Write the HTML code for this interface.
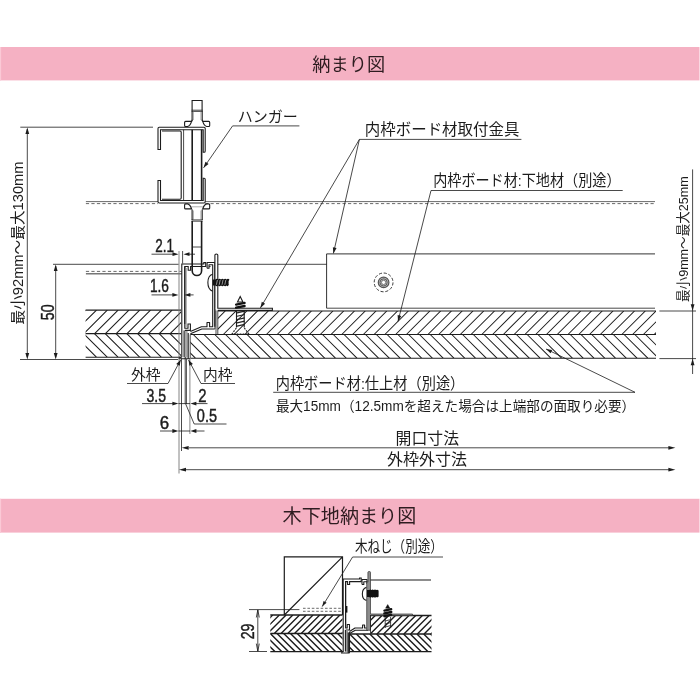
<!DOCTYPE html>
<html lang="ja"><head><meta charset="utf-8"><title>納まり図</title>
<style>
html,body{margin:0;padding:0;background:#fff;}
body{width:700px;height:700px;overflow:hidden;font-family:"Liberation Sans",sans-serif;}
svg{display:block}
.t{stroke:#1c1c1c;stroke-width:.8;fill:none}
.tl{stroke:#2a2a2a;stroke-width:.7;fill:none}
.tn{stroke:#1c1c1c;stroke-width:.8;fill:none}
.k{stroke:#1c1c1c;stroke-width:1.1;fill:none}
.kn{stroke:#1c1c1c;stroke-width:1.1;fill:none;stroke-linejoin:round}
.kw{stroke:#1c1c1c;stroke-width:1.1;fill:#fff}
.kwn{stroke:#1c1c1c;stroke-width:1.1;fill:#fff}
.k2{stroke:#1c1c1c;stroke-width:.9;fill:none}
.k3{stroke:#1c1c1c;stroke-width:1.6;fill:none}
.k3n{stroke:#1c1c1c;stroke-width:1.3;fill:#fff}
.kb{stroke:#1c1c1c;stroke-width:1.3;fill:none}
.kbn{stroke:#1c1c1c;stroke-width:1.2;fill:none}
.kf{fill:#111;stroke:#111;stroke-width:.5}
.ks{stroke:#222;stroke-width:1.25;fill:none}
.ks2{stroke:#111;stroke-width:2.3;fill:none;stroke-linecap:round}
.w{stroke:#fff;stroke-width:.55;fill:none}
.g1t{stroke:#777;stroke-width:.6;fill:none}
.g1{stroke:#777;stroke-width:.9;fill:none}
.g2{stroke:#777;stroke-width:1.4;fill:none}
.h{stroke:#1c1c1c;stroke-width:1.05;fill:none}
.h2{stroke:#1c1c1c;stroke-width:1.4;fill:none}
.af{fill:#1c1c1c}
.jt{font-family:"Liberation Sans","Noto Sans CJK JP",sans-serif;fill:#1c1c1c;stroke:none}
.jh{font-family:"Liberation Sans","Noto Sans CJK JP",sans-serif;fill:#2e1c20;stroke:none}
.d{font-family:"Liberation Sans",sans-serif;fill:#1c1c1c;stroke:#1c1c1c;stroke-width:.45px}
</style></head>
<body>
<svg style="will-change:transform" width="700" height="700" viewBox="0 0 700 700">
<rect x="0" y="47" width="699.5" height="33.4" fill="#f5b1c3"/>
<rect x="0" y="498.8" width="699.5" height="33.8" fill="#f5b1c3"/>
<rect x="0" y="47" width="1.1" height="33.4" fill="#fbc9d6"/><rect x="0" y="498.8" width="1.1" height="33.8" fill="#fbc9d6"/>
<text x="312.3" y="70.6" font-size="18" textLength="72.8" lengthAdjust="spacingAndGlyphs" class="jh">納まり図</text>
<text x="282.6" y="522.6" font-size="19" textLength="133.7" lengthAdjust="spacingAndGlyphs" class="jh">木下地納まり図</text>
<clipPath id="c1"><rect x="85.6" y="310.1" width="95.4" height="23.5"/></clipPath>
<path d="M85.70,310.1L62.20,333.6M96.50,310.1L73.00,333.6M107.30,310.1L83.80,333.6M118.10,310.1L94.60,333.6M128.90,310.1L105.40,333.6M139.70,310.1L116.20,333.6M150.50,310.1L127.00,333.6M161.30,310.1L137.80,333.6M172.10,310.1L148.60,333.6M182.90,310.1L159.40,333.6M193.70,310.1L170.20,333.6M204.50,310.1L181.00,333.6" class="h" clip-path="url(#c1)"/>
<clipPath id="c2"><rect x="217.8" y="311.0" width="438.2" height="23.5"/></clipPath>
<path d="M225.26,311.0L201.76,334.5M236.03,311.0L212.53,334.5M246.80,311.0L223.30,334.5M257.57,311.0L234.07,334.5M268.34,311.0L244.84,334.5M279.11,311.0L255.61,334.5M289.88,311.0L266.38,334.5M300.66,311.0L277.16,334.5M311.43,311.0L287.93,334.5M322.20,311.0L298.70,334.5M332.97,311.0L309.47,334.5M343.74,311.0L320.24,334.5M354.51,311.0L331.01,334.5M365.28,311.0L341.78,334.5M376.05,311.0L352.55,334.5M386.82,311.0L363.32,334.5M397.59,311.0L374.09,334.5M408.37,311.0L384.87,334.5M419.14,311.0L395.64,334.5M429.91,311.0L406.41,334.5M440.68,311.0L417.18,334.5M451.45,311.0L427.95,334.5M462.22,311.0L438.72,334.5M472.99,311.0L449.49,334.5M483.76,311.0L460.26,334.5M494.53,311.0L471.03,334.5M505.30,311.0L481.80,334.5M516.08,311.0L492.58,334.5M526.85,311.0L503.35,334.5M537.62,311.0L514.12,334.5M548.39,311.0L524.89,334.5M559.16,311.0L535.66,334.5M569.93,311.0L546.43,334.5M580.70,311.0L557.20,334.5M591.47,311.0L567.97,334.5M602.24,311.0L578.74,334.5M613.01,311.0L589.51,334.5M623.79,311.0L600.29,334.5M634.56,311.0L611.06,334.5M645.33,311.0L621.83,334.5M656.10,311.0L632.60,334.5M666.87,311.0L643.37,334.5M677.64,311.0L654.14,334.5" class="h" clip-path="url(#c2)"/>
<clipPath id="c3"><rect x="85.6" y="333.6" width="95.4" height="23.599999999999966"/></clipPath>
<path d="M72.80,333.6L96.40,357.2M83.60,333.6L107.20,357.2M94.40,333.6L118.00,357.2M105.20,333.6L128.80,357.2M116.00,333.6L139.60,357.2M126.80,333.6L150.40,357.2M137.60,333.6L161.20,357.2M148.40,333.6L172.00,357.2M159.20,333.6L182.80,357.2M170.00,333.6L193.60,357.2M180.80,333.6L204.40,357.2" class="h" clip-path="url(#c3)"/>
<clipPath id="c4"><rect x="190.4" y="334.5" width="465.6" height="23.69999999999999"/></clipPath>
<path d="M171.70,334.5L195.40,358.2M182.47,334.5L206.17,358.2M193.25,334.5L216.94,358.2M204.02,334.5L227.72,358.2M214.79,334.5L238.49,358.2M225.56,334.5L249.26,358.2M236.33,334.5L260.03,358.2M247.10,334.5L270.80,358.2M257.87,334.5L281.57,358.2M268.64,334.5L292.34,358.2M279.41,334.5L303.11,358.2M290.18,334.5L313.88,358.2M300.95,334.5L324.65,358.2M311.73,334.5L335.43,358.2M322.50,334.5L346.20,358.2M333.27,334.5L356.97,358.2M344.04,334.5L367.74,358.2M354.81,334.5L378.51,358.2M365.58,334.5L389.28,358.2M376.35,334.5L400.05,358.2M387.12,334.5L410.82,358.2M397.89,334.5L421.59,358.2M408.66,334.5L432.36,358.2M419.44,334.5L443.14,358.2M430.21,334.5L453.91,358.2M440.98,334.5L464.68,358.2M451.75,334.5L475.45,358.2M462.52,334.5L486.22,358.2M473.29,334.5L496.99,358.2M484.06,334.5L507.76,358.2M494.83,334.5L518.53,358.2M505.60,334.5L529.30,358.2M516.38,334.5L540.08,358.2M527.15,334.5L550.85,358.2M537.92,334.5L561.62,358.2M548.69,334.5L572.39,358.2M559.46,334.5L583.16,358.2M570.23,334.5L593.93,358.2M581.00,334.5L604.70,358.2M591.77,334.5L615.47,358.2M602.54,334.5L626.24,358.2M613.31,334.5L637.01,358.2M624.09,334.5L647.79,358.2M634.86,334.5L658.56,358.2M645.63,334.5L669.33,358.2" class="h" clip-path="url(#c4)"/>
<line x1="85.6" y1="310.1" x2="181" y2="310.1" class="k"/>
<line x1="85.6" y1="333.6" x2="181" y2="333.6" class="k"/>
<line x1="85.6" y1="357.2" x2="181" y2="357.2" class="k"/>
<line x1="217.8" y1="311.0" x2="656" y2="311.0" class="k"/>
<line x1="190.4" y1="334.5" x2="656" y2="334.5" class="k"/>
<line x1="190.4" y1="358.2" x2="656" y2="358.2" class="k"/>
<line x1="190.2" y1="334.5" x2="190.2" y2="358.2" class="t"/>
<line x1="85.9" y1="201.6" x2="158" y2="201.6" class="tl"/>
<line x1="85.9" y1="203.6" x2="158" y2="203.6" class="tl" stroke-dasharray="3.2 2.3"/>
<line x1="205" y1="201.6" x2="655" y2="201.6" class="tl"/>
<line x1="205" y1="203.6" x2="655" y2="203.6" class="tl" stroke-dasharray="3.2 2.3"/>
<line x1="85.9" y1="271.4" x2="182" y2="271.4" class="tl" stroke-dasharray="3.2 2.3"/>
<line x1="85.9" y1="273.8" x2="182" y2="273.8" class="g2"/>
<path d="M326.6,308.2V253.9H655" class="k2"/>
<line x1="326.6" y1="308.2" x2="655" y2="308.2" class="t"/>
<line x1="217.8" y1="264.3" x2="326.6" y2="264.3" class="t"/>
<circle cx="383.6" cy="282.4" r="9.4" fill="none" stroke="#333" stroke-width="0.95" stroke-dasharray="3.1 1.8"/>
<circle cx="383.6" cy="282.4" r="5.3" fill="#bbb" stroke="#555" stroke-width="1.2"/>
<circle cx="383.6" cy="282.4" r="3.6" fill="none" stroke="#555" stroke-width="0.9"/>
<circle cx="383.6" cy="282.4" r="2.1" fill="#fff" stroke="#666" stroke-width="0.8"/>
<line x1="20.3" y1="127.2" x2="153" y2="127.2" class="t"/>
<line x1="20" y1="359.5" x2="178" y2="359.5" class="t"/>
<line x1="53" y1="264.3" x2="178.7" y2="264.3" class="t"/>
<line x1="27.3" y1="129" x2="27.3" y2="357" class="t"/>
<polygon points="27.30,127.40 29.20,133.90 25.40,133.90" class="af"/>
<polygon points="27.30,359.40 25.40,352.90 29.20,352.90" class="af"/>
<line x1="55.7" y1="266" x2="55.7" y2="357" class="t"/>
<polygon points="55.70,264.50 57.60,271.00 53.80,271.00" class="af"/>
<polygon points="55.70,359.40 53.80,352.90 57.60,352.90" class="af"/>
<text transform="translate(22.96,324.5) rotate(-90)" font-size="14.5" textLength="163" lengthAdjust="spacingAndGlyphs" class="jt">最小92mm〜最大130mm</text>
<text transform="translate(53.70,320.27) rotate(-90) scale(0.807,1)" font-size="17.76" class="d">50</text>
<line x1="659.4" y1="311" x2="696" y2="311" class="t"/>
<line x1="659.4" y1="358.6" x2="696" y2="358.6" class="t"/>
<line x1="692.6" y1="169.4" x2="692.6" y2="374" class="t"/>
<polygon points="692.60,310.80 690.70,304.30 694.50,304.30" class="af"/>
<polygon points="692.60,358.80 694.50,365.30 690.70,365.30" class="af"/>
<text transform="translate(687.94,302.0) rotate(-90)" font-size="13.5" textLength="125.7" lengthAdjust="spacingAndGlyphs" class="jt">最小9mm〜最大25mm</text>
<line x1="179" y1="251" x2="179" y2="473.5" class="g1"/>
<line x1="182.6" y1="251" x2="182.6" y2="263.5" class="t"/>
<line x1="181.5" y1="358.5" x2="181.5" y2="451" class="t"/>
<line x1="185.2" y1="358.5" x2="185.2" y2="404" class="t"/>
<line x1="186.4" y1="358.5" x2="186.4" y2="404" class="t"/>
<line x1="189.9" y1="358.5" x2="189.9" y2="434" class="g1"/>
<path d="M192.1,110.2V100.5H202.1V110.2" class="k"/>
<path d="M191.6,110.2H202.6M191.6,111.4H202.6" class="t"/>
<path d="M192.1,110.2V120.8M202.2,110.2V120.8" class="k"/>
<path d="M193.4,111.4V120M200.9,111.4V120" class="g1t"/>
<path d="M187.6,126.5H185.6Q184.6,126.5 184.6,125.5V122.4Q184.6,121.4 185.6,121.4H191.6C190.8,123.95 189.6,125.9 187.6,126.5Z" class="kw"/>
<path d="M206.70000000000002,126.5H208.70000000000002Q209.70000000000002,126.5 209.70000000000002,125.5V122.4Q209.70000000000002,121.4 208.70000000000002,121.4H202.70000000000002C203.5,123.95 204.70000000000002,125.9 206.70000000000002,126.5Z" class="kw"/>
<path d="M191.6,121.4C191.9,120.9 192.1,120.5 192.1,119.8M202.7,121.4C202.4,120.9 202.2,120.5 202.2,119.8" class="k"/>
<path d="M158,149.5V128.4Q158,127.2 159.2,127.2H204Q205.2,127.2 205.2,128.4V151Q205.2,152.3 204.2,152.3H203.2V129.7H160.5V149.5Z" class="kw"/>
<path d="M158,180.5V201.8Q158,203 159.2,203H204Q205.2,203 205.2,201.8V179.5Q205.2,178.2 204.2,178.2H203.2V200.5H160.5V180.5Z" class="kw"/>
<path d="M162,131H180Q181.2,131 181.2,132.2V198Q181.2,199.2 180,199.2H162" class="k"/>
<line x1="183.6" y1="129.7" x2="183.6" y2="200.5" class="t"/>
<line x1="192.2" y1="129.7" x2="192.2" y2="200.5" class="k3"/>
<line x1="201.6" y1="129.7" x2="201.6" y2="200.5" class="k3"/>
<path d="M187.6,203.9H185.6Q184.6,203.9 184.6,204.9V207.9Q184.6,208.9 185.6,208.9H191.6C190.8,206.4 189.6,204.5 187.6,203.9Z" class="kw"/>
<path d="M206.70000000000002,203.9H208.70000000000002Q209.70000000000002,203.9 209.70000000000002,204.9V207.9Q209.70000000000002,208.9 208.70000000000002,208.9H202.70000000000002C203.5,206.4 204.70000000000002,204.5 206.70000000000002,203.9Z" class="kw"/>
<path d="M192.1,209.5V220M202.2,209.5V220" class="k"/>
<path d="M193.4,210.5V219.6M200.9,210.5V219.6" class="g1t"/>
<path d="M191.6,219.9H202.6M191.6,221.2H202.6" class="t"/>
<line x1="191.5" y1="206.8" x2="202.8" y2="206.8" class="g1t"/>
<path d="M181.8,357.3V264H203.8V262.6H205.7V266.5H190.6V270.2H188.2V266.5H184.8V324" class="kw"/>
<path d="M184.8,266.5V328.2H188V324H190.4V330.4H184.8" class="kwn"/>
<line x1="186.1" y1="268" x2="186.1" y2="327" class="g1"/>
<rect x="184.6" y="331" width="3" height="26.6" fill="#a8a8a8"/>
<path d="M184.1,330.4V357.3M188.2,333V358.7" class="k"/>
<path d="M178.7,357.3H181.8M178.7,358.7H185.3V357.3M186.2,358.7H190.2" class="k"/>
<path d="M207.1,268.2V262.5H214.8V326.8" class="kn"/>
<path d="M207.1,268.2H209V264.8H212.7V326.8H209.6V322.5H207V326.8H201.4L190.4,331.6" class="kn"/>
<path d="M214.8,329H201.8L190.4,333.8" class="kn"/>
<path d="M209,266.5H210.6" class="t"/>
<path d="M192.2,221V270.8A4.7,4.7 0 0 0 201.6,270.8V221" class="k3"/>
<line x1="192.2" y1="247" x2="201.6" y2="247" class="t"/>
<path d="M214.9,308.2V255Q214.9,254 216.3,254Q217.8,254 217.8,255V308.2H272.4V310.4H217.8" class="kwn"/>
<path d="M214.9,308.2V329M216,310.5V334M217.8,310.5V334" class="t"/>
<path d="M212.6,274.2C206.3,276 206.3,289 212.6,291.2" class="k"/>
<path d="M212.8,279.4H215.4Q216.8,277.9 218.20000000000002,279.4Q219.6,277.9 221.0,279.4Q222.4,277.9 223.8,279.4Q225.20000000000002,277.9 226.60000000000002,279.4Q228.0,277.9 229.4,279.4Q229.3,280 228.6,281V284Q229.3,285 228.2,285.6Q228.0,287.1 226.6,285.6Q225.20000000000002,287.1 223.8,285.6Q222.4,287.1 221,285.6Q219.6,287.1 218.2,285.6Q216.8,287.1 215.4,285.6H212.8Z" fill="#111"/>
<path d="M216.4,284.8L217.4,280M219.2,284.8L220.2,280M222,284.8L223,280M224.8,284.8L225.8,280" class="w"/>
<path d="M240.2,296.6L237.5,302H242.9Z" class="kw"/>
<path d="M236.1,304.6L244.6,302.9M236.1,307.7L244.6,306" class="ks2"/>
<path d="M236,313.2L244.6,311.2M236,316.5L244.6,314.5M236,319.8L244.6,317.8M236,323.1L244.6,321.1M236,326.4L244.6,324.4" class="ks"/>
<path d="M236.5,310.5V327.5M244.2,310.5V327.5" class="k"/>
<path d="M236.3,328L232,334H248.8L244.4,328" class="k" stroke-dasharray="1.8 1.2"/>
<text x="237.7" y="122" font-size="15" textLength="60" lengthAdjust="spacingAndGlyphs" class="jt">ハンガー</text>
<line x1="232.6" y1="125.9" x2="299.4" y2="125.9" class="t"/>
<line x1="232.6" y1="125.9" x2="203.6" y2="167.8" class="t"/>
<polygon points="203.60,167.80 205.45,161.79 208.58,163.95" class="af"/>
<text x="364.8" y="134.7" font-size="15.5" textLength="154.6" lengthAdjust="spacingAndGlyphs" class="jt">内枠ボード材取付金具</text>
<line x1="359.4" y1="139.4" x2="521.4" y2="139.4" class="t"/>
<line x1="359.4" y1="139.4" x2="333.4" y2="253.4" class="t"/>
<polygon points="333.40,253.40 332.88,247.13 336.59,247.97" class="af"/>
<line x1="359.4" y1="139.4" x2="260.4" y2="307.9" class="t"/>
<polygon points="260.40,307.90 261.80,301.76 265.08,303.69" class="af"/>
<text x="433.2" y="186" font-size="15.5" textLength="187.3" lengthAdjust="spacingAndGlyphs" class="jt">内枠ボード材:下地材（別途）</text>
<line x1="431" y1="190.5" x2="622.7" y2="190.5" class="t"/>
<line x1="431" y1="190.5" x2="398" y2="321.4" class="t"/>
<polygon points="398.00,321.40 397.62,315.12 401.31,316.05" class="af"/>
<text x="275.7" y="389.2" font-size="15.5" textLength="188.6" lengthAdjust="spacingAndGlyphs" class="jt">内枠ボード材:仕上材（別途）</text>
<line x1="273.2" y1="392.3" x2="635" y2="392.3" class="t"/>
<line x1="635" y1="392.3" x2="546" y2="349" class="t"/>
<polygon points="546.00,349.00 552.23,349.92 550.56,353.33" class="af"/>
<text x="275.9" y="410.9" font-size="14" textLength="359.3" lengthAdjust="spacingAndGlyphs" class="jt">最大15mm（12.5mmを超えた場合は上端部の面取り必要）</text>
<text x="395.6" y="444" font-size="15.5" textLength="63.4" lengthAdjust="spacingAndGlyphs" class="jt">開口寸法</text>
<text x="387" y="464.8" font-size="15.8" textLength="80" lengthAdjust="spacingAndGlyphs" class="jt">外枠外寸法</text>
<line x1="189" y1="447.8" x2="669" y2="447.8" class="t"/>
<polygon points="181.70,447.80 188.70,445.90 188.70,449.70" class="af"/>
<polygon points="675.40,447.80 668.40,449.70 668.40,445.90" class="af"/>
<line x1="186" y1="469.7" x2="669" y2="469.7" class="t"/>
<polygon points="179.00,469.70 186.00,467.80 186.00,471.60" class="af"/>
<polygon points="675.40,469.70 668.40,471.60 668.40,467.80" class="af"/>
<text x="131" y="380" font-size="15" textLength="29.7" lengthAdjust="spacingAndGlyphs" class="jt">外枠</text>
<text x="203" y="380" font-size="15" textLength="29.5" lengthAdjust="spacingAndGlyphs" class="jt">内枠</text>
<line x1="127" y1="383.5" x2="168" y2="383.5" class="t"/>
<line x1="168" y1="383.5" x2="180.6" y2="360" class="t"/>
<polygon points="180.60,360.00 179.76,365.79 176.24,363.90" class="af"/>
<line x1="201" y1="383.5" x2="235" y2="383.5" class="t"/>
<line x1="201" y1="383.5" x2="188.6" y2="360" class="t"/>
<polygon points="188.60,360.00 192.94,363.93 189.40,365.80" class="af"/>
<text transform="translate(155.32,251.60) scale(0.759,1)" font-size="17.76" class="d">2.1</text>
<line x1="151.5" y1="254.2" x2="173" y2="254.2" class="t"/>
<polygon points="178.50,254.20 172.50,256.10 172.50,252.30" class="af"/>
<line x1="189" y1="254.2" x2="195" y2="254.2" class="t"/>
<polygon points="183.50,254.20 189.50,252.30 189.50,256.10" class="af"/>
<text transform="translate(149.96,292.20) scale(0.771,1)" font-size="17.76" class="d">1.6</text>
<line x1="151.5" y1="294.9" x2="173" y2="294.9" class="t"/>
<polygon points="178.40,294.90 172.40,296.80 172.40,293.00" class="af"/>
<line x1="190" y1="294.9" x2="193.6" y2="294.9" class="t"/>
<polygon points="184.40,294.90 190.40,293.00 190.40,296.80" class="af"/>
<text transform="translate(146.47,401.80) scale(0.791,1)" font-size="17.76" class="d">3.5</text>
<line x1="142" y1="403.6" x2="173" y2="403.6" class="t"/>
<polygon points="178.40,403.60 172.40,405.50 172.40,401.70" class="af"/>
<line x1="178.4" y1="403.6" x2="190" y2="403.6" class="t"/>
<line x1="196" y1="403.6" x2="207.5" y2="403.6" class="t"/>
<polygon points="190.40,403.60 196.40,401.70 196.40,405.50" class="af"/>
<text transform="translate(198.25,401.80) scale(0.841,1)" font-size="17.76" class="d">2</text>
<text transform="translate(196.83,421.70) scale(0.817,1)" font-size="17.76" class="d">0.5</text>
<path d="M185.7,404L194.2,424H226.5" class="tn"/>
<text transform="translate(159.74,429.30) scale(0.944,1)" font-size="17.90" class="d">6</text>
<line x1="160" y1="431" x2="173" y2="431" class="t"/>
<polygon points="178.40,431.00 172.40,432.90 172.40,429.10" class="af"/>
<line x1="178.4" y1="431" x2="190" y2="431" class="t"/>
<line x1="196" y1="431" x2="204.5" y2="431" class="t"/>
<polygon points="190.40,431.00 196.40,429.10 196.40,432.90" class="af"/>
<clipPath id="d1"><rect x="270.3" y="615.0" width="72.19999999999999" height="18.5"/></clipPath>
<path d="M272.64,615.0L254.14,633.5M279.37,615.0L260.87,633.5M286.10,615.0L267.60,633.5M292.83,615.0L274.33,633.5M299.56,615.0L281.06,633.5M306.29,615.0L287.79,633.5M313.02,615.0L294.52,633.5M319.75,615.0L301.25,633.5M326.48,615.0L307.98,633.5M333.21,615.0L314.71,633.5M339.94,615.0L321.44,633.5M346.67,615.0L328.17,633.5M353.40,615.0L334.90,633.5M360.13,615.0L341.63,633.5" class="h2" clip-path="url(#d1)"/>
<clipPath id="d2"><rect x="370.5" y="615.5" width="61.0" height="18.5"/></clipPath>
<path d="M375.29,615.5L356.79,634.0M382.02,615.5L363.52,634.0M388.75,615.5L370.25,634.0M395.48,615.5L376.98,634.0M402.21,615.5L383.71,634.0M408.94,615.5L390.44,634.0M415.67,615.5L397.17,634.0M422.40,615.5L403.90,634.0M429.13,615.5L410.63,634.0M435.86,615.5L417.36,634.0M442.59,615.5L424.09,634.0M449.32,615.5L430.82,634.0" class="h2" clip-path="url(#d2)"/>
<clipPath id="d3"><rect x="270.3" y="633.5" width="72.19999999999999" height="18.100000000000023"/></clipPath>
<path d="M256.84,633.5L274.94,651.6M263.57,633.5L281.67,651.6M270.30,633.5L288.40,651.6M277.03,633.5L295.13,651.6M283.76,633.5L301.86,651.6M290.49,633.5L308.59,651.6M297.22,633.5L315.32,651.6M303.95,633.5L322.05,651.6M310.68,633.5L328.78,651.6M317.41,633.5L335.51,651.6M324.14,633.5L342.24,651.6M330.87,633.5L348.97,651.6M337.60,633.5L355.70,651.6" class="h2" clip-path="url(#d3)"/>
<clipPath id="d4"><rect x="349.5" y="634.0" width="82.0" height="17.600000000000023"/></clipPath>
<path d="M336.20,634.0L353.80,651.6M342.93,634.0L360.53,651.6M349.66,634.0L367.26,651.6M356.39,634.0L373.99,651.6M363.12,634.0L380.72,651.6M369.85,634.0L387.45,651.6M376.58,634.0L394.18,651.6M383.31,634.0L400.91,651.6M390.04,634.0L407.64,651.6M396.77,634.0L414.37,651.6M403.50,634.0L421.10,651.6M410.23,634.0L427.83,651.6M416.96,634.0L434.56,651.6M423.69,634.0L441.29,651.6M430.42,634.0L448.02,651.6" class="h2" clip-path="url(#d4)"/>
<line x1="270.3" y1="615.0" x2="342.5" y2="615.0" class="kb"/>
<line x1="270.3" y1="633.5" x2="342.5" y2="633.5" class="kb"/>
<line x1="270.3" y1="651.6" x2="342.5" y2="651.6" class="kb"/>
<line x1="370.5" y1="615.5" x2="431.5" y2="615.5" class="kb"/>
<line x1="349.5" y1="634.0" x2="431.5" y2="634.0" class="kb"/>
<line x1="349.5" y1="651.6" x2="431.5" y2="651.6" class="kb"/>
<line x1="349.5" y1="634.0" x2="349.5" y2="651.6" class="k"/>
<path d="M284.3,615V556.9H342.5V615M284.3,615L342.5,556.9" class="kbn"/>
<line x1="249" y1="609.6" x2="299.4" y2="609.6" class="t"/>
<line x1="249" y1="651.5" x2="267" y2="651.5" class="t"/>
<line x1="257.8" y1="610" x2="257.8" y2="651" class="t"/>
<path d="M256.3,617.5L257.8,609.9L259.3,617.5M256.3,643.6L257.8,651.2L259.3,643.6" class="tn"/>
<text transform="translate(254.30,639.31) rotate(-90) scale(0.746,1)" font-size="18.90" class="d">29</text>
<path d="M303,608.3H343M303,611.3H343" class="tl" stroke-dasharray="2.6 1.8"/>
<rect x="345" y="606" width="2.4" height="6.6" fill="#111"/>
<text x="354.9" y="552.2" font-size="15.5" textLength="88" lengthAdjust="spacingAndGlyphs" class="jt">木ねじ（別途）</text>
<line x1="352.6" y1="557" x2="443" y2="557" class="t"/>
<line x1="352.6" y1="557" x2="322.2" y2="606.6" class="t"/>
<polygon points="322.20,606.60 323.54,600.97 326.61,602.85" class="af"/>
<path d="M343.2,652V579H359.6V578H361.2V581.6H349.6V584.5H347.6V581.6H345.6V624.5" class="kwn"/>
<path d="M345.6,581.6V628H347.2V624.5H349.5V630H345.6" class="kn"/>
<rect x="345.6" y="630.5" width="2.4" height="21.3" fill="#9a9a9a"/>
<path d="M345.4,630V651.6M348.2,632.5V653M349.4,632V653" class="k"/>
<path d="M341,651.6H343.2M341,653H349.6" class="k"/>
<path d="M362,584.5V579.5H367V584M362,584.5H363.8V581.8H366.8M366.8,628H364.6V625H362.6V628H355L349.5,631.5" class="kn"/>
<path d="M368,630.3H355.3L349.5,633.6" class="kn"/>
<path d="M366.7,614V582H367.9V572.3Q367.9,571.5 369.2,571.5Q370.5,571.5 370.5,572.3V614H412.5V615.5H370.5V630.3H366.7Z" fill="#8c8c8c" stroke="#333" stroke-width="0.7"/>
<line x1="370.5" y1="615" x2="370.5" y2="633.5" class="t"/>
<line x1="370.5" y1="580" x2="431" y2="580" class="k"/>
<path d="M366.4,587.4C361,589 361,598.8 366.4,600.4" class="k"/>
<path d="M367,590H369.2Q370.3,588.8 371.4,590Q372.6,588.8 373.8,590Q375,588.8 376.2,590Q377.6,589.2 378.6,590.6V596.4Q377.6,597.8 376.2,597Q375,598.2 373.8,597Q372.6,598.2 371.4,597Q370.3,598.2 369.2,597H367Z" fill="#111"/>
<path d="M387.7,604.6L385.6,608.2H389.8Z" class="kf"/>
<path d="M384.4,610.6L391.2,609.2M384.3,613.4L391.3,612M384.4,616.2L391.2,614.8" class="ks2"/>
<path d="M385.2,617V628M390.6,617V628M385.2,621L390.6,619.6M385.2,624L390.6,622.6M385.2,627L390.6,625.6" class="t"/>
</svg>
</body></html>
